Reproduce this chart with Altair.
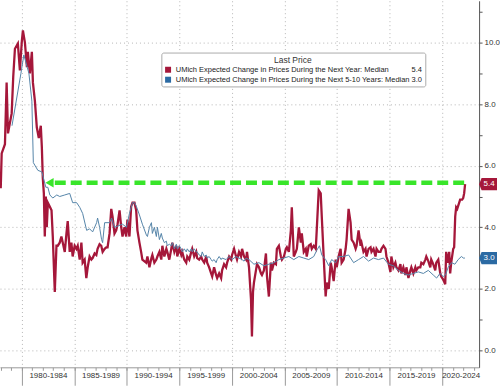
import altair as alt
import pandas as pd

# ---------------- data ----------------
series_names = [
    "UMich Expected Change in Prices During the Next Year: Median",
    "UMich Expected Change in Prices During the Next 5-10 Years: Median",
]

red_years = [
    1978.01, 1978.10, 1978.41, 1978.57, 1978.70, 1979.05, 1979.20, 1979.36, 1979.64, 1979.83,
    1980.02, 1980.12, 1980.31, 1980.50, 1980.59, 1980.78, 1980.97, 1981.07, 1981.26, 1981.44,
    1981.63, 1981.82, 1981.92, 1982.01, 1982.11, 1982.20, 1982.30, 1982.39, 1982.49, 1982.68,
    1982.84, 1982.96, 1983.15, 1983.31, 1983.43, 1983.62, 1983.78, 1983.91, 1984.10, 1984.26,
    1984.38, 1984.57, 1984.73, 1984.85, 1985.04, 1985.21, 1985.33, 1985.52, 1985.68, 1985.80,
    1985.99, 1986.15, 1986.28, 1986.46, 1986.63, 1986.75, 1986.94, 1987.10, 1987.22, 1987.41,
    1987.57, 1987.70, 1987.89, 1988.05, 1988.17, 1988.36, 1988.52, 1988.64, 1988.83, 1988.99,
    1989.12, 1989.31, 1989.47, 1989.59, 1989.78, 1989.94, 1990.06, 1990.25, 1990.41, 1990.54,
    1990.73, 1990.89, 1991.01, 1991.20, 1991.36, 1991.48, 1991.84, 1991.96, 1992.15, 1992.34,
    1992.43, 1992.62, 1992.81, 1992.91, 1993.10, 1993.28, 1993.38, 1993.57, 1993.76, 1993.85,
    1994.04, 1994.23, 1994.33, 1994.52, 1994.71, 1994.80, 1994.99, 1995.18, 1995.27, 1995.46,
    1995.65, 1995.75, 1995.94, 1996.13, 1996.22, 1996.41, 1996.60, 1996.69, 1996.88, 1997.07,
    1997.17, 1997.36, 1997.55, 1997.64, 1997.83, 1998.02, 1998.12, 1998.30, 1998.49, 1998.59,
    1998.78, 1998.97, 1999.06, 1999.25, 1999.44, 1999.54, 1999.73, 1999.92, 2000.01, 2000.20,
    2000.39, 2000.48, 2000.67, 2000.86, 2000.96, 2001.15, 2001.34, 2001.43, 2001.62, 2001.81,
    2001.90, 2002.00, 2002.09, 2002.28, 2002.38, 2002.57, 2002.76, 2002.85, 2003.04, 2003.23,
    2003.33, 2003.51, 2003.70, 2003.80, 2003.99, 2004.18, 2004.27, 2004.46, 2004.65, 2004.75,
    2004.94, 2005.13, 2005.22, 2005.41, 2005.60, 2005.69, 2005.88, 2006.07, 2006.17, 2006.36,
    2006.55, 2006.64, 2006.83, 2007.02, 2007.11, 2007.30, 2007.49, 2007.59, 2007.78, 2007.97,
    2008.06, 2008.25, 2008.44, 2008.54, 2008.72, 2008.91, 2009.01, 2009.20, 2009.39, 2009.48,
    2009.67, 2009.86, 2009.96, 2010.14, 2010.33, 2010.43, 2010.62, 2010.81, 2010.90, 2011.09,
    2011.28, 2011.38, 2011.57, 2011.76, 2011.85, 2012.04, 2012.23, 2012.32, 2012.51, 2012.70,
    2012.80, 2012.99, 2013.18, 2013.27, 2013.46, 2013.65, 2013.75, 2013.93, 2014.12, 2014.22,
    2014.41, 2014.60, 2014.69, 2014.88, 2015.07, 2015.16, 2015.35, 2015.54, 2015.64, 2015.83,
    2016.02, 2016.11, 2016.30, 2016.49, 2016.59, 2016.78, 2016.97, 2017.06, 2017.25, 2017.44,
    2017.53, 2017.72, 2017.91, 2018.01, 2018.20, 2018.39, 2018.48, 2018.67, 2018.86, 2018.95,
    2019.14, 2019.33, 2019.43, 2019.62, 2019.81, 2019.90, 2020.09, 2020.28, 2020.37, 2020.56,
    2020.66, 2020.75, 2020.85, 2021.04, 2021.13, 2021.23, 2021.32, 2021.42, 2021.61, 2021.70,
    2021.89, 2021.99, 2022.08, 2022.17,
]
red_values = [
    5.27, 6.4, 6.7, 8.7, 7.05, 7.7, 8.9, 9.8, 9.97, 9.1,
    10.06, 10.4, 10.0, 9.2, 9.7, 9.0, 9.7, 8.7, 8.1, 7.25,
    6.9, 7.3, 6.6, 5.6, 5.1, 3.7, 5.0, 4.0, 4.8, 4.67,
    4.55, 3.7, 1.9, 3.4, 3.4, 3.5, 3.7, 3.5, 3.2, 3.8,
    4.2, 3.2, 3.5, 3.05, 3.4, 3.3, 3.4, 2.95, 3.5, 2.85,
    2.95, 2.35, 2.7, 3.05, 2.95, 3.0, 3.15, 3.1, 3.3, 3.45,
    3.4, 3.2, 3.3, 3.35, 3.35, 3.8, 4.6, 4.35, 3.8, 3.9,
    4.1, 4.55, 4.0, 3.7, 4.0, 3.7, 4.25, 3.7, 4.67, 4.8,
    4.8, 4.55, 3.9, 3.5, 3.2, 2.95, 2.85, 3.05, 2.7, 3.0,
    3.1, 2.85, 2.95, 3.05, 3.2, 2.95, 3.4, 3.05, 3.3, 3.2,
    2.95, 3.3, 3.5, 3.2, 3.4, 3.05, 3.3, 3.1, 3.2, 2.95,
    2.85, 3.05, 2.95, 3.2, 3.3, 3.05, 3.2, 3.0, 2.95, 3.05,
    2.95, 2.85, 3.05, 2.85, 2.7, 2.5, 2.4, 2.7, 2.45, 2.35,
    2.5, 2.35, 2.6, 2.8, 2.7, 2.85, 3.05, 2.95, 3.1, 3.3,
    3.05, 2.95, 3.2, 3.05, 3.3, 3.05, 2.95, 3.2, 2.7, 1.65,
    0.45, 1.9, 2.2, 2.6, 2.8, 2.7, 2.5, 2.45, 2.6, 3.15,
    2.4, 1.75, 2.85, 2.6, 2.85, 2.8, 3.3, 3.4, 3.05, 2.95,
    3.05, 3.3, 3.35, 3.2, 3.9, 4.65, 3.05, 3.2, 3.3, 4.0,
    3.5, 3.8, 3.2, 3.3, 3.05, 3.4, 3.45, 3.3, 3.4, 3.3,
    3.9, 5.2, 5.1, 4.35, 3.05, 1.75, 2.2, 2.0, 2.85, 2.7,
    2.25, 2.95, 2.7, 3.05, 3.3, 2.85, 2.95, 3.3, 3.6, 4.6,
    4.15, 3.6, 3.5, 3.3, 3.4, 3.9, 3.4, 3.5, 3.2, 3.3,
    3.05, 3.3, 3.35, 3.2, 3.3, 3.05, 3.3, 3.2, 3.2, 3.3,
    3.4, 3.3, 3.05, 2.85, 2.55, 3.05, 2.7, 2.85, 2.7, 2.6,
    2.8, 2.5, 2.7, 2.45, 2.7, 2.35, 2.6, 2.7, 2.5, 2.7,
    2.6, 2.7, 2.7, 2.85, 2.8, 2.95, 3.05, 2.9, 2.7, 2.95,
    2.8, 2.6, 2.85, 2.95, 2.5, 2.4, 2.3, 2.15, 3.2, 2.85,
    3.2, 2.5, 2.85, 3.3, 3.35, 4.35, 4.65, 4.6, 4.8, 4.9,
    4.9, 4.95, 5.1, 5.4,
]

blue_years = [
    1979.08, 1979.93, 1980.21, 1980.69, 1980.97, 1981.11, 1981.54, 1981.92, 1982.30, 1982.49,
    1982.68, 1982.96, 1983.34, 1983.62, 1984.10, 1984.57, 1984.85, 1985.23, 1985.52, 1985.80,
    1986.18, 1986.46, 1986.75, 1987.13, 1987.22, 1987.41, 1987.60, 1987.70, 1987.89, 1988.36,
    1988.55, 1988.83, 1989.59, 1989.97, 1990.25, 1990.54, 1990.73, 1990.92, 1991.20, 1991.48,
    1991.86, 1991.96, 1992.15, 1992.34, 1992.43, 1992.62, 1992.81, 1992.91, 1993.10, 1993.28,
    1993.38, 1993.57, 1993.76, 1993.85, 1994.04, 1994.23, 1994.33, 1994.52, 1994.71, 1994.80,
    1994.99, 1995.18, 1995.27, 1995.46, 1995.65, 1995.75, 1995.94, 1996.13, 1996.22, 1996.41,
    1996.60, 1996.69, 1996.88, 1997.07, 1997.17, 1997.36, 1997.55, 1997.64, 1997.83, 1998.02,
    1998.12, 1998.30, 1998.49, 1998.59, 1998.78, 1998.97, 1999.06, 1999.44, 1999.73, 2000.01,
    2000.39, 2000.67, 2000.96, 2001.15, 2001.34, 2001.62, 2002.09, 2002.57, 2003.04, 2003.51,
    2003.99, 2004.46, 2004.94, 2005.41, 2005.88, 2006.36, 2006.83, 2007.30, 2007.78, 2008.06,
    2008.32, 2008.54, 2008.91, 2009.20, 2009.48, 2009.86, 2010.14, 2010.62, 2011.09, 2011.57,
    2012.04, 2012.51, 2012.99, 2013.46, 2013.93, 2014.41, 2014.88, 2015.35, 2015.83, 2016.30,
    2016.78, 2017.25, 2017.72, 2018.20, 2018.67, 2019.14, 2019.46, 2019.78, 2020.09, 2020.31,
    2020.56, 2020.88, 2021.20, 2021.51, 2021.82, 2022.01, 2022.15,
]
blue_values = [
    7.3, 9.0, 9.6, 9.0, 8.1, 6.1, 5.85, 5.8, 5.3, 5.3,
    5.05, 4.95, 5.05, 5.0, 5.05, 5.1, 4.8, 4.8, 4.65, 4.45,
    3.9, 3.95, 3.85, 4.15, 4.3, 4.0, 3.6, 3.5, 4.15, 4.15,
    4.3, 4.0, 4.1, 4.0, 4.45, 4.8, 4.8, 4.67, 4.4, 4.1,
    3.75, 3.7, 4.0, 4.15, 3.8, 4.0, 3.7, 4.0, 3.6, 3.8,
    3.65, 3.5, 3.55, 3.4, 3.45, 3.4, 3.5, 3.3, 3.45, 3.3,
    3.4, 3.3, 3.2, 3.3, 3.2, 3.3, 3.2, 3.3, 3.2, 3.3,
    3.2, 3.2, 3.1, 3.05, 3.2, 3.05, 3.1, 3.0, 3.05, 2.95,
    2.9, 2.95, 2.85, 2.95, 3.05, 2.95, 3.0, 2.95, 3.05, 2.95,
    3.05, 3.0, 2.95, 2.9, 3.0, 2.95, 2.8, 2.85, 2.75, 2.8,
    2.85, 2.95, 3.0, 3.05, 2.95, 3.05, 3.0, 2.95, 3.05, 3.25,
    3.4, 3.1, 2.95, 2.75, 2.95, 2.85, 3.05, 3.05, 3.1, 2.85,
    2.95, 3.05, 2.9, 3.0, 2.95, 3.0, 2.8, 2.75, 2.6, 2.5,
    2.45, 2.5, 2.55, 2.5, 2.6, 2.45, 2.35, 2.5, 2.4, 2.45,
    2.7, 2.85, 2.8, 2.95, 3.05, 3.0, 3.0,
]

period_starts = [1980, 1985, 1990, 1995, 2000, 2005, 2010, 2015, 2020]
period_labels = ["1980-1984", "1985-1989", "1990-1994", "1995-1999", "2000-2004",
                 "2005-2009", "2010-2014", "2015-2019", "2020-2024"]
minor_years = list(range(1978, 2024))
y_major = [0, 2, 4, 6, 8, 10]
y_minor = [1, 3, 5, 7, 9, 11]

last_values = [red_values[-1], blue_values[-1]]

# annotation arrow (green dashed) level / extent
arrow_level = 5.45
arrow_head_year = 1982.65
arrow_start_year = 1983.15
arrow_end_year = 2022.15

# ---------------- styling ----------------
FONT = "Liberation Sans"
RED = "#a5173a"
BLUE_LINE = "#5584a8"
BLUE_TAG = "#2b6aa3"
GREEN = "#39e52a"
GRID = "#b5b5b5"

X_MIN, X_MAX = 1977.94, 2023.5
Y_MIN, Y_MAX = -0.55, 11.36

xscale = alt.Scale(domain=[X_MIN, X_MAX], nice=False, zero=False)
yscale = alt.Scale(domain=[Y_MIN, Y_MAX], nice=False, zero=False)

red_df = pd.DataFrame({"year": red_years, "value": red_values})
blue_df = pd.DataFrame({"year": blue_years, "value": blue_values})

mids = [(s + min(s + 5, X_MAX)) / 2 for s in period_starts]
label_expr = " : ".join(
    f"abs(datum.value - {m}) < 0.01 ? '{lab}'" for m, lab in zip(mids, period_labels)
) + " : ''"

ax_x_major = alt.Axis(values=period_starts, orient="bottom", tickSize=18, tickColor="#999",
                      grid=True, gridColor=GRID, gridDash=[1, 3], labels=False,
                      domain=True, domainColor="#999", title=None)
ax_x_minor = alt.Axis(values=minor_years, orient="bottom", tickSize=3, tickColor="#999",
                      grid=False, labels=False, domain=False, title=None)
ax_x_labels = alt.Axis(values=mids, orient="bottom", ticks=False, tickSize=0, labelPadding=4,
                       labelExpr=label_expr, labelFlush=False, labelOverlap=False,
                       labelFont=FONT, labelFontSize=8, labelColor="#333",
                       domain=False, grid=False, title=None)
ax_y_major = alt.Axis(values=y_major, orient="right", format=".1f", tickSize=3, tickColor="#555",
                      grid=True, gridColor=GRID, gridDash=[1, 3], domain=True, domainColor="#555",
                      labelFont=FONT, labelFontSize=8, labelColor="#333", labelPadding=2,
                      title=None)
ax_y_minor = alt.Axis(values=y_minor, orient="right", tickSize=3, tickColor="#555", labels=False,
                      grid=False, domain=False, title=None)

red_line = alt.Chart(red_df).mark_line(color=RED, strokeWidth=2.3, clip=True).encode(
    x=alt.X("year:Q", scale=xscale, axis=ax_x_major),
    y=alt.Y("value:Q", scale=yscale, axis=ax_y_major),
)
blue_line = alt.Chart(blue_df).mark_line(color=BLUE_LINE, strokeWidth=1, clip=True).encode(
    x=alt.X("year:Q", scale=xscale, axis=ax_x_minor),
    y=alt.Y("value:Q", scale=yscale, axis=ax_y_minor),
)

arrow_df = pd.DataFrame({"x": [arrow_start_year], "x2": [arrow_end_year], "y": [arrow_level]})
arrow_rule = alt.Chart(arrow_df).mark_rule(color=GREEN, strokeWidth=4.5, strokeDash=[11, 5]).encode(
    x=alt.X("x:Q", scale=xscale, axis=ax_x_labels),
    x2="x2:Q",
    y=alt.Y("y:Q", scale=yscale, axis=None),
)
head_df = pd.DataFrame({"x": [arrow_head_year], "y": [arrow_level]})
arrow_head = alt.Chart(head_df).mark_point(shape="triangle-left", filled=True, size=90,
                                           color=GREEN, opacity=1).encode(
    x=alt.X("x:Q", scale=xscale, axis=None),
    y=alt.Y("y:Q", scale=yscale, axis=None),
)

# legend labels with last values
nb = "\u00a0"
disp = [series_names[0] + nb * 11 + f"{last_values[0]:.1f}",
        series_names[1] + nb + f"{last_values[1]:.1f}"]
legend_expr = f"datum.label == '{series_names[0]}' ? '{disp[0]}' : '{disp[1]}'"

tag_df = pd.DataFrame({
    "series": series_names,
    "value": last_values,
    "label": [f"{v:.1f}" for v in last_values],
})
tag_shape = "M-1,0 L-0.72,-0.68 L1,-0.68 L1,0.68 L-0.72,0.68 Z"
tags = alt.Chart(tag_df).mark_point(shape=tag_shape, filled=True, size=324, opacity=1).encode(
    x=alt.value(490),
    y=alt.Y("value:Q", scale=yscale, axis=None),
    color=alt.Color(
        "series:N",
        scale=alt.Scale(domain=series_names, range=[RED, BLUE_TAG]),
        legend=alt.Legend(
            title="Last Price", orient="none", legendX=162, legendY=52, direction="vertical",
            titleAnchor="middle", titleFont=FONT, titleFontSize=8.5, titleFontWeight="normal",
            titleColor="#333", titlePadding=2, labelFont=FONT, labelFontSize=7.5,
            labelColor="#222", labelLimit=400, labelExpr=legend_expr,
            symbolType="square", symbolSize=36, symbolStrokeWidth=0,
            padding=3, rowPadding=1, strokeColor="#aaa", fillColor="white", cornerRadius=2,
        ),
    ),
)
tag_text = alt.Chart(tag_df).mark_text(color="white", font=FONT, fontSize=8,
                                      align="center", baseline="middle").encode(
    x=alt.value(491),
    y=alt.Y("value:Q", scale=yscale, axis=None),
    text="label:N",
)

chart = alt.layer(red_line, blue_line, arrow_rule, arrow_head, tags, tag_text).resolve_axis(
    x="independent", y="independent"
).properties(
    width=481, height=368, padding=0, background="white",
).configure_view(stroke=None)

chart.save("out.html", embed_options={"renderer": "svg", "actions": False})
